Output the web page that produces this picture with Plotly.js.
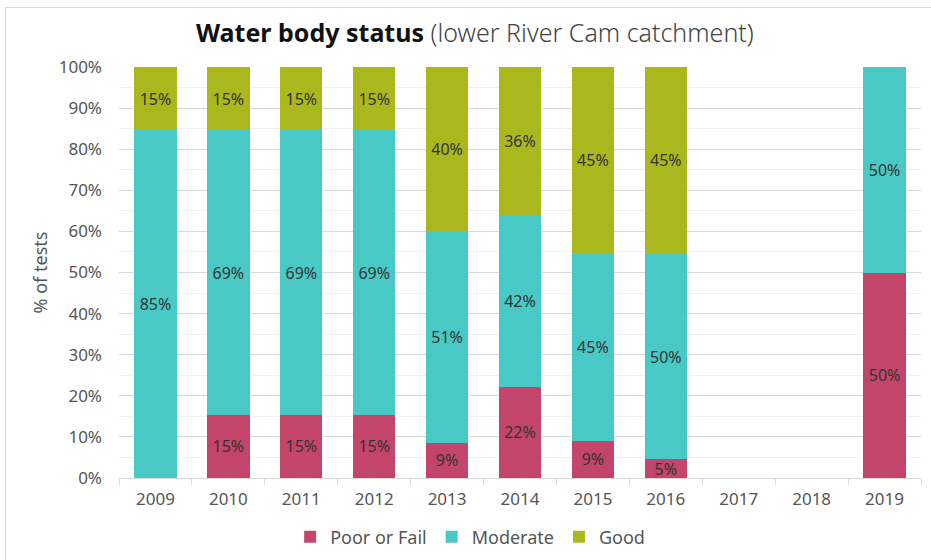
<!DOCTYPE html>
<html>
<head>
<meta charset="utf-8">
<script src="https://cdn.plot.ly/plotly-3.0.1.min.js"></script>
<style>
  html, body { margin: 0; padding: 0; background: #fff; }
  #chart { width: 931px; height: 560px; }
  #frame { position: absolute; left: 5px; top: 7px; width: 2000px; height: 2000px; border: 1px solid #d9d9d9; pointer-events: none; }
</style>
</head>
<body>
<div id="frame"></div>
<div id="chart"></div>
<script>
const years = ['2009','2010','2011','2012','2013','2014','2015','2016','2017','2018','2019'];
const poorOrFail = [0, 15.4, 15.4, 15.4, 8.6, 22.2, 9.1, 4.55, null, null, 50];
const moderate   = [84.6, 69.2, 69.2, 69.2, 51.4, 41.7, 45.45, 50, null, null, 50];
const good       = [15.4, 15.4, 15.4, 15.4, 40.0, 36.1, 45.45, 45.45, null, null, 0];

const seriesNames = ['Poor or Fail', 'Moderate', 'Good'];
const seriesColors = ['#C4456B', '#48C9C5', '#AAB81E'];
const seriesValues = [poorOrFail, moderate, good];

const FONT = 'Noto Sans, sans-serif';

const labelFor = v => (v === null || v === 0) ? '' : Math.round(v) + '%';

const traces = seriesValues.map((vals, i) => ({
  type: 'bar',
  name: seriesNames[i],
  x: years,
  y: vals,
  marker: { color: seriesColors[i], line: { width: 0 } },
  text: vals.map(labelFor),
  textposition: 'inside',
  insidetextanchor: 'middle',
  textangle: 0,
  constraintext: 'none',
  textfont: { family: FONT, size: 16, color: '#333333' },
  hoverinfo: 'skip'
}));

const layout = {
  width: 931,
  height: 560,
  paper_bgcolor: 'rgba(0,0,0,0)',
  plot_bgcolor: 'rgba(0,0,0,0)',
  barmode: 'stack',
  bargap: 0.42,
  margin: { l: 119, r: 10, t: 67, b: 82, autoexpand: false },
  font: { family: FONT, color: '#555555' },
  title: {
    text: '<b>Water body status</b> <span style="font-weight:300;color:#444">(lower River Cam catchment)</span>',
    font: { family: FONT, size: 25, color: '#111111' },
    x: 0.51, xanchor: 'center', xref: 'container',
    y: 0.941, yanchor: 'middle', yref: 'container'
  },
  xaxis: {
    type: 'category',
    categoryarray: years,
    tickfont: { family: FONT, size: 17, color: '#555555' },
    showline: true,
    linecolor: '#d9d9d9',
    linewidth: 1,
    ticks: 'outside',
    tickson: 'boundaries',
    ticklen: 6,
    tickcolor: '#d9d9d9',
    ticklabelstandoff: 6,
    showgrid: false,
    zeroline: false
  },
  yaxis: {
    range: [0, 100],
    dtick: 10,
    ticksuffix: '%',
    tickfont: { family: FONT, size: 17, color: '#555555' },
    showgrid: true,
    gridcolor: '#d9d9d9',
    gridwidth: 1,
    minor: { dtick: 5, showgrid: true, gridcolor: '#f0f0f0', gridwidth: 1 },
    zeroline: false,
    showline: false,
    ticks: '',
    ticklabelstandoff: 16,
    title: { text: '% of tests', font: { family: FONT, size: 18, color: '#555555' }, standoff: 6 }
  },
  showlegend: true,
  legend: {
    orientation: 'h',
    xref: 'container', x: 0.505, xanchor: 'center',
    yref: 'container', y: 0.041, yanchor: 'middle',
    font: { family: FONT, size: 18, color: '#555555' },
    traceorder: 'normal',
    itemwidth: 30
  }
};

Plotly.newPlot('chart', traces, layout, { displayModeBar: false, staticPlot: true });
</script>
</body>
</html>
